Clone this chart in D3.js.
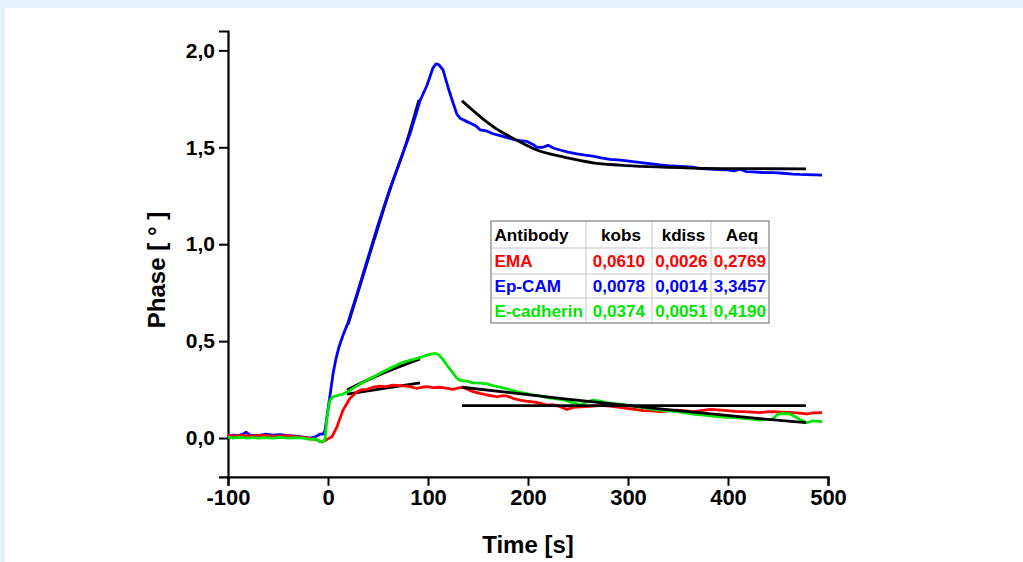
<!DOCTYPE html>
<html><head><meta charset="utf-8">
<script src="https://cdn.jsdelivr.net/npm/d3@7"></script>
<style>
html,body{margin:0;padding:0;background:#fff;}
svg{display:block;font-family:"Liberation Sans",Arial,sans-serif;}
</style></head>
<body>
<svg id="chart" width="1023" height="562"></svg>
<script>
// ---------- data ----------
const xTicks = [-100, 0, 100, 200, 300, 400, 500];
const yTicks = [0, 0.5, 1.0, 1.5, 2.0];
const xTitle = "Time [s]";
const yTitle = "Phase [ ° ]";

const epcamCurve = [[-100,0.01],[-95,0.015],[-90,0.012],[-85,0.02],[-82,0.03],[-78,0.015],[-70,0.012],[-62,0.02],[-55,0.015],[-48,0.018],[-40,0.012],[-32,0.01],[-25,0.005],[-18,0.0],[-12,0.008],[-8,0.02],[-5,0.02],[-3,0.04],[0,0.15],[2,0.22],[5,0.33],[8,0.41],[11,0.47],[15,0.53],[20,0.595],[30,0.76],[40,0.93],[50,1.1],[62,1.288],[72,1.43],[82,1.57],[92,1.74],[99,1.82],[105,1.91],[108,1.93],[111,1.925],[115,1.9],[120,1.81],[125,1.73],[129,1.67],[132,1.65],[138,1.635],[144,1.62],[148,1.61],[152,1.59],[158,1.585],[165,1.57],[172,1.56],[179,1.55],[186,1.54],[192,1.535],[199,1.53],[205,1.515],[209,1.5],[215,1.5],[220,1.51],[226,1.495],[232,1.486],[240,1.475],[249,1.466],[257,1.46],[265,1.455],[273,1.445],[282,1.438],[290,1.435],[299,1.43],[307,1.425],[315,1.42],[324,1.415],[332,1.409],[340,1.405],[349,1.403],[357,1.4],[365,1.397],[373,1.39],[382,1.387],[390,1.385],[399,1.383],[406,1.378],[412,1.387],[418,1.375],[425,1.373],[435,1.37],[445,1.369],[455,1.366],[465,1.362],[472,1.36],[479,1.359],[487,1.358],[494,1.356]];

const emaCurve = [[-100,0.015],[-95,0.01],[-90,0.012],[-85,0.015],[-80,0.01],[-72,0.012],[-65,0.015],[-58,0.01],[-50,0.01],[-42,0.012],[-35,0.008],[-28,0.005],[-20,0.0],[-11,-0.01],[-6,-0.02],[-1,-0.007],[4,0.007],[9,0.058],[15,0.144],[22,0.205],[29,0.239],[34,0.25],[39,0.251],[45,0.262],[52,0.268],[58,0.265],[65,0.273],[72,0.27],[79,0.268],[84,0.262],[89,0.256],[94,0.262],[99,0.265],[105,0.26],[112,0.262],[118,0.258],[125,0.251],[130,0.258],[135,0.262],[140,0.25],[145,0.239],[152,0.23],[159,0.222],[164,0.218],[169,0.213],[174,0.218],[179,0.217],[185,0.205],[192,0.196],[198,0.19],[205,0.187],[212,0.18],[219,0.17],[225,0.172],[232,0.162],[239,0.148],[245,0.158],[257,0.162],[265,0.165],[273,0.168],[282,0.165],[290,0.16],[299,0.153],[307,0.148],[315,0.141],[324,0.14],[332,0.136],[340,0.14],[349,0.144],[357,0.14],[365,0.136],[373,0.142],[382,0.148],[390,0.145],[399,0.141],[407,0.138],[415,0.136],[424,0.134],[432,0.131],[438,0.135],[445,0.136],[455,0.134],[465,0.131],[472,0.128],[479,0.124],[485,0.13],[494,0.131]];

const ecadCurve = [[-100,0.005],[-95,0.0],[-90,0.004],[-85,0.002],[-80,0.0],[-75,0.003],[-70,0.0],[-62,0.002],[-55,0.0],[-48,0.003],[-40,0.0],[-32,0.002],[-25,0.0],[-18,-0.007],[-12,-0.005],[-8,-0.02],[-5,-0.015],[-3,-0.01],[-1,0.11],[2,0.196],[5,0.213],[10,0.22],[15,0.227],[20,0.24],[25,0.256],[32,0.278],[39,0.3],[47,0.32],[55,0.342],[63,0.362],[72,0.385],[80,0.398],[89,0.411],[95,0.42],[99,0.428],[104,0.434],[107,0.437],[110,0.432],[112,0.423],[116,0.398],[120,0.368],[125,0.336],[129,0.308],[132,0.298],[135,0.296],[140,0.292],[145,0.285],[152,0.283],[159,0.279],[165,0.27],[172,0.262],[178,0.255],[185,0.244],[192,0.236],[198,0.23],[205,0.222],[212,0.218],[219,0.208],[225,0.205],[232,0.2],[237,0.195],[242,0.187],[247,0.18],[252,0.17],[258,0.185],[265,0.196],[272,0.19],[279,0.182],[285,0.178],[292,0.175],[299,0.17],[305,0.165],[312,0.16],[319,0.153],[325,0.148],[332,0.144],[340,0.14],[349,0.136],[357,0.13],[365,0.124],[373,0.12],[382,0.114],[390,0.11],[399,0.107],[407,0.105],[415,0.102],[424,0.098],[432,0.093],[438,0.095],[444,0.096],[447,0.11],[450,0.124],[456,0.126],[462,0.124],[467,0.11],[472,0.096],[476,0.085],[479,0.079],[485,0.089],[490,0.086],[494,0.084]];

// fitted curves (black)
const epcamAssocFit = [[20,0.585],[40,0.92],[60,1.25],[80,1.55],[91,1.745]];
const epcamDissocFit = [[134,1.74],[145,1.69],[159,1.63],[170,1.59],[182,1.555],[195,1.52],[209,1.486],[225,1.462],[242,1.443],[265,1.42],[292,1.408],[320,1.4],[365,1.393],[420,1.39],[478,1.389]];
const emaAssocFit = [[19,0.227],[92,0.285]];
const emaDissocFit = [[134,0.167],[478,0.167]];
const ecadAssocFit = [[19,0.248],[40,0.3],[60,0.345],[80,0.385],[92,0.408]];
const ecadDissocFit = [[134,0.262],[232,0.205],[332,0.15],[432,0.1],[478,0.079]];

// table
const tableHeader = ["Antibody", "kobs", "kdiss", "Aeq"];
const antibodies = ["EMA", "Ep-CAM", "E-cadherin"];
const kobs = ["0,0610", "0,0078", "0,0374"];
const kdiss = ["0,0026", "0,0014", "0,0051"];
const aeq = ["0,2769", "3,3457", "0,4190"];
const rowColors = ["#ff0000", "#0000ff", "#00e600"];

// ---------- drawing ----------
const svg = d3.select("#chart");
svg.append("rect").attr("x",0).attr("y",0).attr("width",1023).attr("height",562).attr("fill","#e4f3fa");
svg.append("rect").attr("x",5).attr("y",8).attr("width",1018).attr("height",554).attr("fill","#ffffff");

const x = d3.scaleLinear().domain([-100, 500]).range([228, 828]);
const y = d3.scaleLinear().domain([-0.2, 2.1]).range([476.8, 31]);

const locale = d3.formatLocale({decimal: ",", thousands: ".", grouping: [3], currency: ["", ""], minus: "-"});
const fmt1 = locale.format(".1f");
const fmtX = locale.format("d");

// minor ticks
const xMinor = d3.range(-100, 501, 20);
const yMinor = d3.range(-0.2, 2.101, 0.1);

const gx = svg.append("g").attr("transform", `translate(0,${y(-0.2)})`);
gx.call(d3.axisBottom(x).tickValues(xMinor).tickSize(5).tickFormat(""));
gx.call(d3.axisBottom(x).tickValues(xTicks).tickSize(9).tickPadding(4).tickFormat(fmtX));
gx.selectAll(".domain").attr("stroke","#000").attr("stroke-width",2.2);
gx.selectAll(".tick line").attr("stroke","#000").attr("stroke-width",2);
gx.selectAll(".tick text").attr("font-size",22).attr("font-weight","bold").attr("fill","#000");

const gy = svg.append("g").attr("transform", `translate(${x(-100)},0)`);
gy.call(d3.axisLeft(y).tickValues(yMinor).tickSize(5).tickFormat(""));
gy.call(d3.axisLeft(y).tickValues(yTicks).tickSize(9).tickPadding(4).tickFormat(fmt1));
gy.selectAll(".domain").attr("stroke","#000").attr("stroke-width",2.2);
gy.selectAll(".tick line").attr("stroke","#000").attr("stroke-width",2);
gy.selectAll(".tick text").attr("font-size",21).attr("font-weight","bold").attr("fill","#000");

// titles
svg.append("text").attr("x", 528).attr("y", 553).attr("text-anchor","middle")
  .attr("font-size",24).attr("font-weight","bold").text(xTitle);
svg.append("text").attr("transform","translate(165,270) rotate(-90)").attr("text-anchor","middle")
  .attr("font-size",24).attr("font-weight","bold").text(yTitle);

const line = d3.line().x(d => x(d[0])).y(d => y(d[1]));
const smooth = d3.line().x(d => x(d[0])).y(d => y(d[1])).curve(d3.curveMonotoneX);

// association fits under data
[epcamAssocFit, emaAssocFit, ecadAssocFit].forEach(f => {
  svg.append("path").datum(f).attr("d", smooth).attr("fill","none")
    .attr("stroke","#000").attr("stroke-width",2.8);
});

const series = [
  {data: epcamCurve, color: "#0000ff"},
  {data: emaCurve, color: "#ff0000"},
  {data: ecadCurve, color: "#00e600"}
];
series.forEach(s => {
  svg.append("path").datum(s.data).attr("d", line).attr("fill","none")
    .attr("stroke", s.color).attr("stroke-width",2.8).attr("stroke-linejoin","round");
});

// dissociation fits on top
[epcamDissocFit, emaDissocFit, ecadDissocFit].forEach(f => {
  svg.append("path").datum(f).attr("d", smooth).attr("fill","none")
    .attr("stroke","#000").attr("stroke-width",2.8);
});

// table
const tX = [491, 586, 652, 711, 769];
const tY = [221, 248, 274, 298, 323];
const tg = svg.append("g");
tg.append("rect").attr("x",tX[0]).attr("y",tY[0]).attr("width",tX[4]-tX[0]).attr("height",tY[4]-tY[0])
  .attr("fill","#fff");
tX.slice(1,4).forEach(cx => tg.append("line").attr("x1",cx).attr("x2",cx).attr("y1",tY[0]).attr("y2",tY[4])
  .attr("stroke","#c8c8c8").attr("stroke-width",1));
tY.slice(1,4).forEach(cy => tg.append("line").attr("x1",tX[0]).attr("x2",tX[4]).attr("y1",cy).attr("y2",cy)
  .attr("stroke","#c8c8c8").attr("stroke-width",1));
tg.append("rect").attr("x",tX[0]).attr("y",tY[0]).attr("width",tX[4]-tX[0]).attr("height",tY[4]-tY[0])
  .attr("fill","none").attr("stroke","#808080").attr("stroke-width",1.2);

const rows = [tableHeader].concat(antibodies.map((a,i) => [a, kobs[i], kdiss[i], aeq[i]]));
rows.forEach((r, ri) => {
  const color = ri === 0 ? "#000" : rowColors[ri-1];
  const cy = (tY[ri] + tY[ri+1]) / 2 + 6;
  r.forEach((txt, ci) => {
    const t = tg.append("text").attr("y", cy).attr("font-size",17.1).attr("font-weight","bold")
      .attr("fill", color).text(txt);
    if (ci === 0) t.attr("x", tX[0] + 3.5);
    else if (ri === 0) t.attr("x", (tX[ci] + tX[ci+1]) / 2 + 2).attr("text-anchor","middle");
    else t.attr("x", (tX[ci] + tX[ci+1]) / 2).attr("text-anchor","middle");
  });
});
</script>
</body></html>
